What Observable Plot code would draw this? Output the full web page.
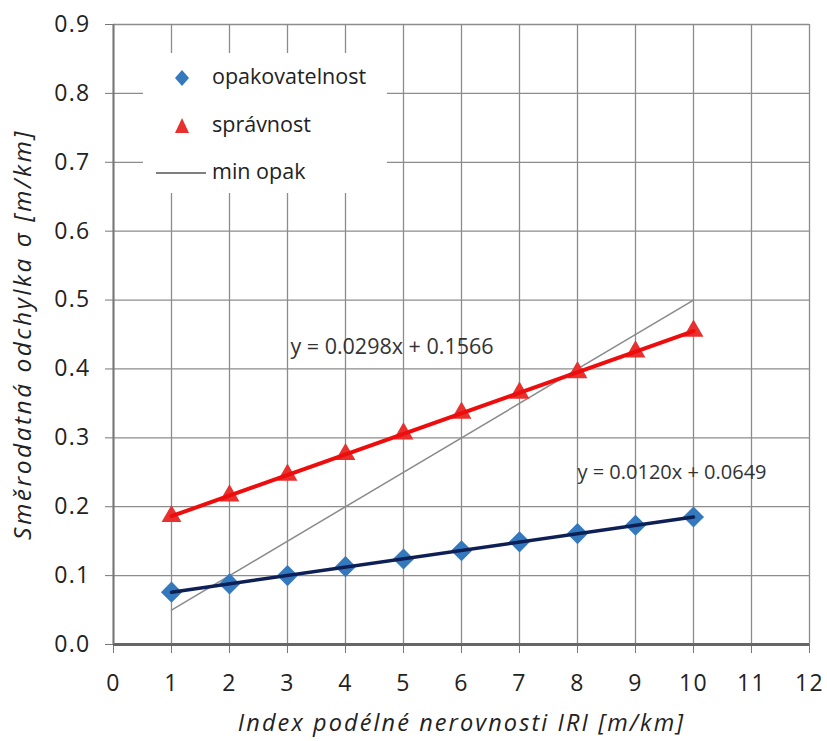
<!DOCTYPE html>
<html>
<head>
<meta charset="utf-8">
<script src="https://cdn.jsdelivr.net/npm/d3@7"></script>
<script src="https://cdn.jsdelivr.net/npm/@observablehq/plot@0.6"></script>
<style>
  html, body { margin: 0; padding: 0; background: #fff; }
  #wrap { position: relative; width: 827px; height: 741px; }
  #legend { position: absolute; left: 143px; top: 53px; width: 244px; height: 140px; background: #fff;
            font-family: "Open Sans", sans-serif; font-size: 21.5px; color: #222; }
  #legend .row { position: absolute; left: 0; height: 24px; display: flex; align-items: center; }
  #legend .row span { position: absolute; left: 69px; white-space: nowrap; line-height: 24px; top: -2px; }
  g[aria-label="x-axis label"] text { font-style: italic; font-size: 23.5px; letter-spacing: 2.1px; }
  g[aria-label="y-axis label"] text { font-style: italic; font-size: 24.5px; letter-spacing: 2.5px; }
  g[aria-label="x-axis tick label"] text, g[aria-label="y-axis tick label"] text { letter-spacing: 1.3px; }
</style>
</head>
<body>
<div id="wrap"></div>
<script>
// x values (IRI [m/km])
const iri = [1, 2, 3, 4, 5, 6, 7, 8, 9, 10];
// opakovatelnost (repeatability) values
const opakovatelnost = [0.076, 0.088, 0.100, 0.113, 0.124, 0.136, 0.149, 0.161, 0.173, 0.185];
// správnost (accuracy) values
const spravnost = [0.186, 0.216, 0.246, 0.276, 0.306, 0.336, 0.365, 0.395, 0.425, 0.455];
// min opak line endpoints
const minOpakX = [1, 10];
const minOpakY = [0.05, 0.5];
// tick values
const xTicks = [0, 1, 2, 3, 4, 5, 6, 7, 8, 9, 10, 11, 12];
const yTicks = [0, 0.1, 0.2, 0.3, 0.4, 0.5, 0.6, 0.7, 0.8, 0.9];
// equation annotations
const eqText = ["y = 0.0298x + 0.1566", "y = 0.0120x + 0.0649"];
const eqX = [3.05, 8.0];
const eqY = [0.431, 0.25];
// legend labels
const legendLabels = ["opakovatelnost", "správnost", "min opak"];

const opData = iri.map((x, i) => ({x, y: opakovatelnost[i]}));
const spData = iri.map((x, i) => ({x, y: spravnost[i]}));
const minData = minOpakX.map((x, i) => ({x, y: minOpakY[i]}));
const eqData = eqText.map((t, i) => ({t, x: eqX[i], y: eqY[i]}));

const blue = "#3478bd";
const red = "#e8302e";

const chart = Plot.plot({
  width: 827,
  height: 741,
  marginLeft: 113,
  marginRight: 18,
  marginTop: 24,
  marginBottom: 97,
  style: {fontFamily: "Open Sans, sans-serif", background: "#fff", color: "#222"},
  x: {domain: [0, 12]},
  y: {domain: [0, 0.9]},
  marks: [
    Plot.gridX(xTicks, {stroke: "#8c8c8c", strokeOpacity: 1, strokeWidth: 1.3}),
    Plot.gridY(yTicks, {stroke: "#8c8c8c", strokeOpacity: 1, strokeWidth: 1.3}),
    Plot.axisX(xTicks, {tickSize: 9, tickPadding: 21, fontSize: 23, tickFormat: d => String(d), stroke: "#777",
      label: "Index podélné nerovnosti IRI [m/km]", labelAnchor: "center", labelOffset: 86, labelArrow: "none"}),
    Plot.axisY(yTicks, {tickSize: 8, tickPadding: 15, fontSize: 23, tickFormat: d => d.toFixed(1), stroke: "#777",
      label: "Směrodatná odchylka σ [m/km]", labelAnchor: "center", labelOffset: 100, labelArrow: "none"}),
    Plot.ruleY([0], {stroke: "#666", strokeWidth: 3}),
    Plot.ruleX([0], {stroke: "#777", strokeWidth: 2}),
    Plot.line(minData, {x: "x", y: "y", stroke: "#8a8a8a", strokeWidth: 1.5}),
    Plot.dot(opData, {x: "x", y: "y", symbol: "diamond2", r: 9.5, fill: blue, stroke: "none"}),
    Plot.dot(spData, {x: "x", y: "y", symbol: "triangle2", r: 9.5, fill: red, stroke: "none"}),
    Plot.linearRegressionY(opData, {x: "x", y: "y", stroke: "#0d1f55", strokeWidth: 3.5, ci: 0}),
    Plot.linearRegressionY(spData, {x: "x", y: "y", stroke: "#ee0d0d", strokeWidth: 4, ci: 0}),
    Plot.text(eqData.slice(0, 1), {x: "x", y: "y", text: "t", textAnchor: "start", fontSize: 21.5, fill: "#333", style: "letter-spacing:0.6px"}),
    Plot.text(eqData.slice(1), {x: "x", y: "y", text: "t", textAnchor: "start", fontSize: 20, fill: "#333"})
  ]
});

const wrap = document.getElementById("wrap");
wrap.appendChild(chart);

// legend overlay
const leg = document.createElement("div");
leg.id = "legend";
const sym = [
  `<svg width="30" height="24" style="position:absolute;left:25px;top:0"><path d="M14,4 L21,12 L14,20 L7,12 Z" fill="${blue}"/></svg>`,
  `<svg width="30" height="24" style="position:absolute;left:25px;top:0"><path d="M14,4 L21,19 L7,19 Z" fill="${red}"/></svg>`,
  `<svg width="60" height="24" style="position:absolute;left:13px;top:0"><line x1="0" y1="12" x2="50" y2="12" stroke="#555" stroke-width="1.6"/></svg>`
];
const tops = [13, 61, 108];
legendLabels.forEach((l, i) => {
  const r = document.createElement("div");
  r.className = "row";
  r.style.top = tops[i] + "px";
  r.innerHTML = sym[i] + `<span>${l}</span>`;
  leg.appendChild(r);
});
wrap.appendChild(leg);
</script>
</body>
</html>
